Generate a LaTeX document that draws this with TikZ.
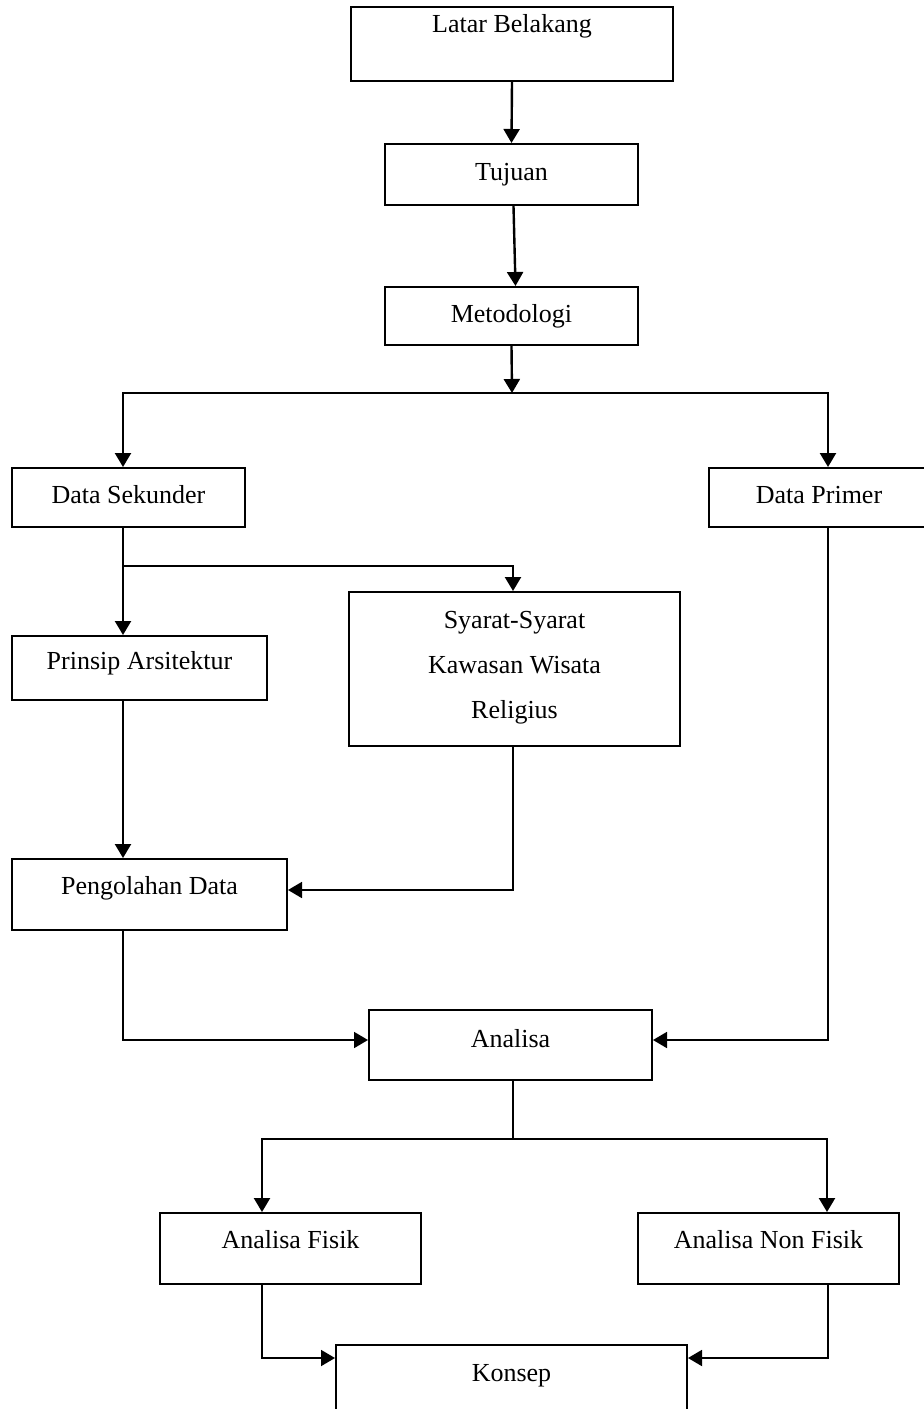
\documentclass[tikz,border=0pt]{standalone}
\usepackage{fontspec}
\setmainfont{Liberation Serif}
\usetikzlibrary{arrows.meta,calc}
\begin{document}
\begin{tikzpicture}[x=0.5pt,y=-0.5pt,
  box/.style={draw, line width=1pt, rectangle, inner sep=0pt},
  lbl/.style={anchor=base, inner sep=0pt, font=\fontsize{13}{15}\selectfont},
  arr/.style={line width=1.2pt, -{Triangle[length=7pt,width=8pt]}},
  ln/.style={line width=1.2pt},
  thinarr/.style={line width=0.9pt, -{Triangle[length=7pt,width=8pt]}},
  thinln/.style={line width=0.9pt}]
\useasboundingbox (0,0) rectangle (924,1409);
\clip (0,0) rectangle (924,1409);

% boxes
\node[box, minimum width=161pt, minimum height=37pt] (lb) at (512,44) {};
\node[box, minimum width=126.5pt, minimum height=30.5pt] (tu) at (511.5,174.5) {};
\node[box, minimum width=126.5pt, minimum height=29pt] (me) at (511.5,316) {};
\node[box, minimum width=116.5pt, minimum height=29.5pt] (ds) at (128.5,497.5) {};
\node[box, minimum width=115.5pt, minimum height=29.5pt] (dp) at (824.5,497.5) {};
\node[box, minimum width=127.5pt, minimum height=32pt] (pa) at (139.5,668) {};
\node[box, minimum width=165.5pt, minimum height=77pt] (sy) at (514.5,669) {};
\node[box, minimum width=137.5pt, minimum height=35.5pt] (pd) at (149.5,894.5) {};
\node[box, minimum width=141.5pt, minimum height=35pt] (an) at (510.5,1045) {};
\node[box, minimum width=130.5pt, minimum height=35.5pt] (af) at (290.5,1248.5) {};
\node[box, minimum width=130.5pt, minimum height=35.5pt] (anf) at (768.5,1248.5) {};
\node[box, minimum width=175.5pt, minimum height=40pt] (ko) at (511.5,1385) {};

% texts
\node[lbl] (tlb) at (512,32) {Latar Belakang};
\node[lbl] (ttu) at (511.5,180) {Tujuan};
\node[lbl] (tme) at (511.5,322) {Metodologi};
\node[lbl] (tds) at (128.5,503) {Data Sekunder};
\node[lbl] (tdp) at (819,503) {Data Primer};
\node[lbl] (tpa) at (139.5,669) {Prinsip Arsitektur};
\node[lbl] (tsy1) at (514.5,628) {Syarat-Syarat};
\node[lbl] (tsy2) at (514.5,673) {Kawasan Wisata};
\node[lbl] (tsy3) at (514.5,718) {Religius};
\node[lbl] (tpd) at (149.5,894) {Pengolahan Data};
\node[lbl] (tan) at (510.5,1047) {Analisa};
\node[lbl] (taf) at (290.5,1248) {Analisa Fisik};
\node[lbl] (tanf) at (768.5,1248) {Analisa Non Fisik};
\node[lbl] (tko) at (511.5,1381) {Konsep};

% junction coordinates
\coordinate (j1) at (512,393);
\coordinate (j1l) at (123,393);
\coordinate (j1r) at (828,393);
\coordinate (j2) at (123,566);
\coordinate (j2r) at (513,566);
\coordinate (j3) at (513,890);
\coordinate (j4) at (123,1040);
\coordinate (j5) at (828,1040);
\coordinate (j6) at (513,1139);
\coordinate (j6l) at (262,1139);
\coordinate (j6r) at (827,1139);
\coordinate (j7) at (262,1358);
\coordinate (j8) at (828,1358);

% connectors
\draw[arr] (lb.south) -- (tu.north);
\draw[arr] ([xshift=1pt]tu.south) -- ([xshift=2pt]me.north);
\draw[arr] (me.south) -- (j1);
\draw[arr] (j1) -- (j1l) -- (j1l |- ds.north);
\draw[arr] (j1) -- (j1r) -- (j1r |- dp.north);
\draw[arr] (j1l |- ds.south) -- (j1l |- pa.north);
\draw[arr] (j2) -- (j2r) -- (j2r |- sy.north);
\draw[arr] (j1l |- pa.south) -- (j1l |- pd.north);
\draw[thinarr] (j2r |- sy.south) -- (j3) -- (j3 -| pd.east);
\draw[thinarr] (j1l |- pd.south) -- (j4) -- (j4 -| an.west);
\draw[thinarr] (j1r |- dp.south) -- (j5) -- (j5 -| an.east);
\draw[thinln] (j6 |- an.south) -- (j6);
\draw[arr] (j6) -- (j6l) -- (j6l |- af.north);
\draw[arr] (j6) -- (j6r) -- (j6r |- anf.north);
\draw[thinarr] (j6l |- af.south) -- (j7) -- (j7 -| ko.west);
\draw[thinarr] (j8 |- anf.south) -- (j8) -- (j8 -| ko.east);
\end{tikzpicture}
\end{document}
